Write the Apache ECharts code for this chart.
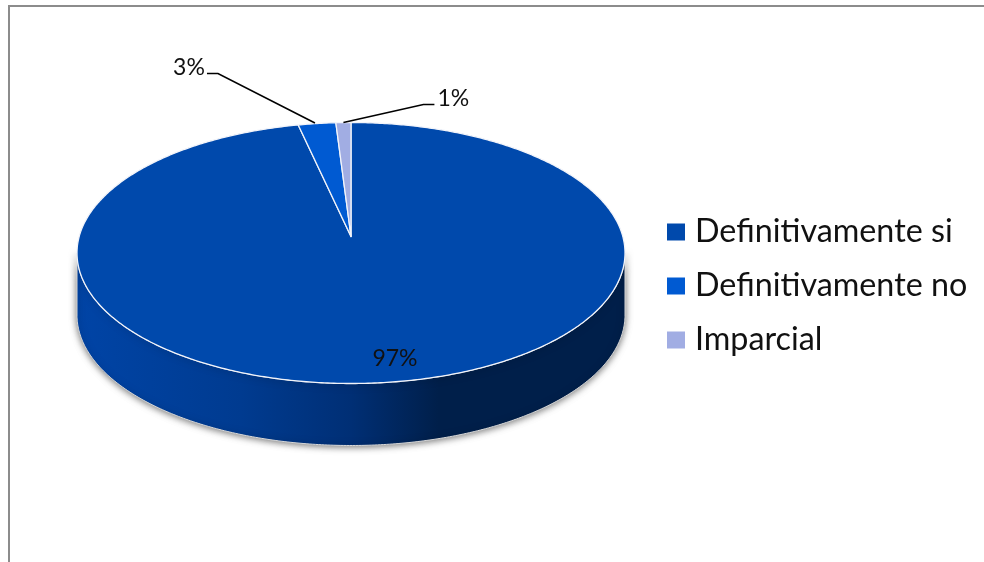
<!DOCTYPE html>
<html>
<head>
<meta charset="utf-8">
<style>html,body{margin:0;padding:0;background:#fff}#c{width:984px;height:562px}</style>
<script src="https://cdn.jsdelivr.net/npm/echarts@6/dist/echarts.min.js"></script>
</head>
<body>
<div id="c"></div>
<script>
const categories = ['Definitivamente si', 'Definitivamente no', 'Imparcial'];
const values = [96.5, 2.5, 1];
const colors = ['#0049AC', '#005AD2', '#A1ADE3'];

const FONT = 'Lato';
const total = values.reduce((a, b) => a + b, 0);
const cx = 351, apexY = 236.5, depth = 62, k = 0.1265, A = 271.8, B = 128.4;

function project(t) {
  const w = 1 + k * Math.cos(t);
  return [cx + A * Math.sin(t) / w, apexY - B * Math.cos(t) / w];
}
function arc(t0, t1, dy) {
  const n = Math.max(2, Math.ceil(Math.abs(t1 - t0) / 0.01)), pts = [];
  for (let i = 0; i <= n; i++) {
    const p = project(t0 + (t1 - t0) * i / n);
    pts.push([p[0], p[1] + dy]);
  }
  return pts;
}
function sliceAngles(idx) {
  let before = 0;
  for (let i = 0; i < idx; i++) before += values[i];
  return [before / total * 2 * Math.PI, (before + values[idx]) / total * 2 * Math.PI];
}
// widest points of the projected rim bound the visible side wall
const widest = Math.acos(-k);

const leader = [
  null,
  { from: [-2, -0.5], elbow: [-99, -50], end: [-110, -50], tx: [-128, -56] },
  { from: [0, 0], elbow: [80, -18], end: [91, -18], tx: [110, -24] }
];

function renderSlice(idx) {
  return function (params, api) {
    const v = api.value(0);
    const ang = sliceAngles(idx);
    const children = [];
    const pct = Math.round(v / total * 100) + '%';
    if (idx === 0) {
      const front = arc(widest, 2 * Math.PI - widest, 0);
      const back = arc(2 * Math.PI - widest, widest, depth);
      children.push({
        type: 'polygon',
        shape: { points: front.concat(back) },
        style: {
          fill: new echarts.graphic.LinearGradient(0, 0, 1, 0, [
            { offset: 0, color: '#0044A6' },
            { offset: 0.3, color: '#003B90' },
            { offset: 0.5, color: '#002F75' },
            { offset: 0.66, color: '#001F4A' },
            { offset: 1, color: '#001F4A' }
          ]),
          stroke: '#d9d9d9',
          lineWidth: 1,
          shadowBlur: 7,
          shadowColor: 'rgba(0,0,0,0.55)',
          shadowOffsetY: 1
        }
      });
    }
    children.push({
      type: 'polygon',
      shape: { points: [[cx, apexY]].concat(arc(ang[0], ang[1], 0)) },
      style: { fill: colors[idx], stroke: '#f2f4fa', lineWidth: 1.3, lineJoin: 'round' }
    });
    if (idx === 0) {
      children.push({
        type: 'text',
        style: { text: pct, x: 395, y: 358.5, fill: '#111', font: '23px ' + FONT, align: 'center', verticalAlign: 'middle' }
      });
    } else {
      const a = project((ang[0] + ang[1]) / 2);
      const L = leader[idx];
      const pt = d => [a[0] + d[0], a[1] + d[1]];
      children.push({
        type: 'polyline',
        shape: { points: [pt(L.from), pt(L.elbow), pt(L.end)] },
        style: { fill: 'none', stroke: '#000', lineWidth: 1.6 },
        z2: 5
      });
      const t = pt(L.tx);
      children.push({
        type: 'text',
        style: { text: pct, x: t[0], y: t[1], fill: '#111', font: '23px ' + FONT, align: 'center', verticalAlign: 'middle' },
        z2: 5
      });
    }
    return { type: 'group', children };
  };
}

const chart = echarts.init(document.getElementById('c'), null, { renderer: 'canvas' });
chart.setOption({
  animation: false,
  backgroundColor: '#fff',
  tooltip: { show: false },
  legend: {
    orient: 'vertical',
    left: 667,
    top: 216,
    padding: 0,
    itemWidth: 18,
    itemHeight: 17,
    itemGap: 22,
    icon: 'rect',
    data: categories,
    selectedMode: false,
    textStyle: { fontFamily: FONT, fontSize: 32.3, color: '#111', padding: [0, 0, 0, 5] }
  },
  graphic: [{
    type: 'polyline',
    silent: true,
    shape: { points: [[9, 562], [9, 6], [984, 6]] },
    style: { fill: 'none', stroke: '#8c8c8c', lineWidth: 2 }
  }],
  series: categories.map((name, i) => ({
    type: 'custom',
    name,
    coordinateSystem: 'none',
    silent: true,
    itemStyle: { color: colors[i] },
    data: [[values[i]]],
    renderItem: renderSlice(i),
    z: 2 + (i === 0 ? 0 : 1)
  }))
});
</script>
</body>
</html>
